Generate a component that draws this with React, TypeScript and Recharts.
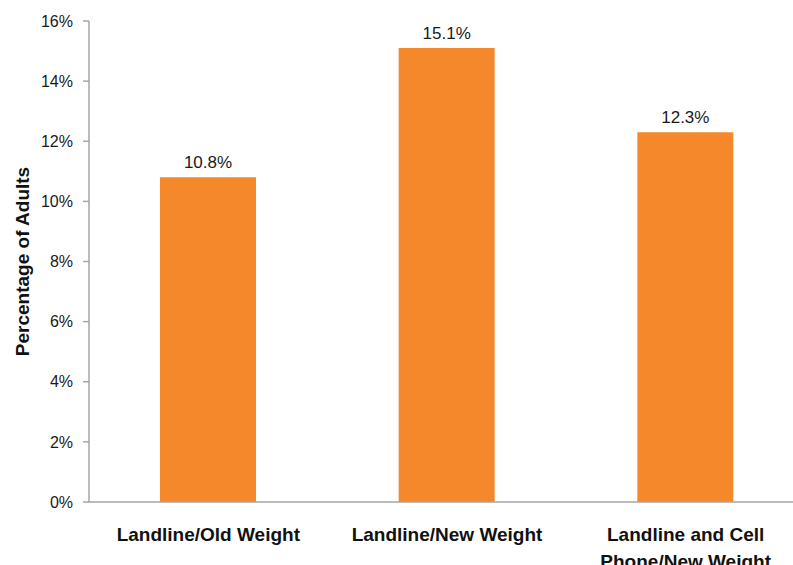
import { BarChart, Bar, XAxis, YAxis, LabelList } from 'recharts';

const categories = ['Landline/Old Weight', 'Landline/New Weight', 'Landline and Cell Phone/New Weight'];
const percentAdults = [10.8, 15.1, 12.3];
const yTicks = [0, 2, 4, 6, 8, 10, 12, 14, 16];

const data = categories.map((name, i) => ({ name, value: percentAdults[i] }));

const FONT = '"Liberation Sans", Arial, sans-serif';
const ORANGE = '#F5882A';
const AXIS = '#A6A6A6';

// wrap category names roughly the way Excel does for this width
const wrap = (text: string, max = 20) => {
  const lines: string[] = [];
  let cur = '';
  text.split(' ').forEach(w => {
    const next = cur ? `${cur} ${w}` : w;
    if (next.length > max && cur) { lines.push(cur); cur = w; }
    else cur = next;
  });
  if (cur) lines.push(cur);
  return lines;
};

const CategoryTick = ({ x, y, payload }: any) => (
  <text x={x} y={y} textAnchor="middle" fontFamily={FONT} fontSize={19} fontWeight="bold" fill="#111">
    {wrap(payload.value).map((line, i) => (
      <tspan key={i} x={x} dy={i === 0 ? 39 : 26.5}>{line}</tspan>
    ))}
  </text>
);

const AxisTitle = ({ viewBox }: any) => {
  const cx = viewBox.x + 22;
  const cy = viewBox.y + viewBox.height / 2;
  return (
    <text x={cx} y={cy} transform={`rotate(-90 ${cx} ${cy})`} textAnchor="middle" dominantBaseline="central"
      fontFamily={FONT} fontSize={19} fontWeight="bold" fill="#111">
      Percentage of Adults
    </text>
  );
};

export default function App() {
  return (
    <div style={{ position: 'fixed', left: 0, top: 0, width: 793, height: 565, overflow: 'hidden', background: '#fff' }}>
      <BarChart width={805} height={565} data={data} margin={{ top: 21, right: 0, bottom: 0, left: 0 }}>
        <XAxis
          dataKey="name"
          height={63}
          interval={0}
          tickLine={false}
          tickSize={0}
          tickMargin={0}
          axisLine={{ stroke: AXIS, strokeWidth: 1.5 }}
          tick={<CategoryTick />}
        />
        <YAxis
          width={89}
          domain={[0, 16]}
          ticks={yTicks}
          interval={0}
          tickFormatter={v => `${v}%`}
          tick={{ fontSize: 16, fill: '#1a1a1a', fontFamily: FONT }}
          tickSize={6}
          tickMargin={10}
          axisLine={{ stroke: AXIS, strokeWidth: 1.5 }}
          tickLine={{ stroke: AXIS, strokeWidth: 1.5 }}
          label={<AxisTitle />}
        />
        <Bar dataKey="value" fill={ORANGE} barSize={96} isAnimationActive={false}>
          <LabelList
            dataKey="value"
            position="top"
            offset={9}
            formatter={(v: any) => `${Number(v).toFixed(1)}%`}
            style={{ fontSize: 17, fill: '#1a1a1a', fontFamily: FONT }}
          />
        </Bar>
      </BarChart>
    </div>
  );
}
